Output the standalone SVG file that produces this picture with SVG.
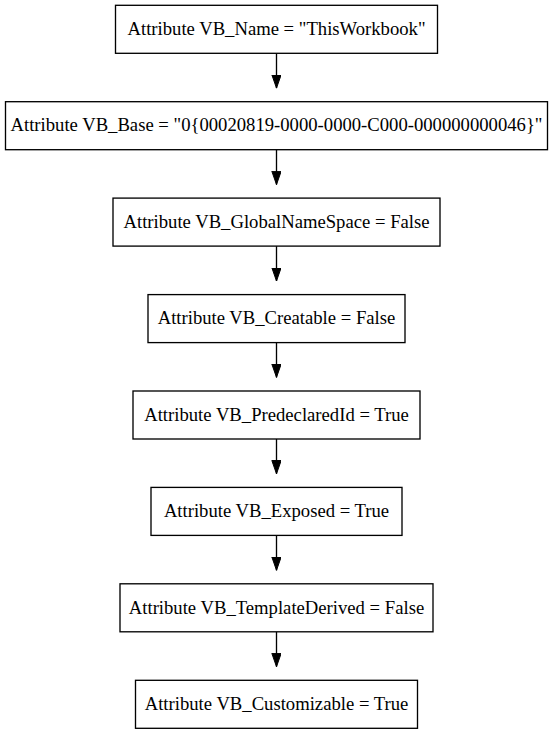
<svg xmlns="http://www.w3.org/2000/svg" width="553" height="731" viewBox="0 0 553 731">
<style>
.node rect{fill:#fff;stroke:#000;stroke-width:1.33}
.node text{font-family:"Liberation Serif","Times New Roman",serif;font-size:18.67px;text-anchor:middle;fill:#000}
.edges line{stroke:#000;stroke-width:1.33;marker-end:url(#ah)}
</style>
<defs>
<marker id="ah" markerUnits="userSpaceOnUse" markerWidth="14" markerHeight="10" refX="13.33" refY="4.67" orient="auto">
<path d="M0,0 L13.33,4.67 L0,9.33 Z" fill="#000" stroke="#000" stroke-width="1"/>
</marker>
</defs>
<rect width="553" height="731" fill="#fff"/>
<g class="edges">
<line x1="276.5" y1="53.3" x2="276.5" y2="88.1"/>
<line x1="276.5" y1="149.7" x2="276.5" y2="184.6"/>
<line x1="276.5" y1="246.1" x2="276.5" y2="281"/>
<line x1="276.5" y1="342.6" x2="276.5" y2="377.4"/>
<line x1="276.5" y1="439" x2="276.5" y2="473.8"/>
<line x1="276.5" y1="535.4" x2="276.5" y2="570.3"/>
<line x1="276.5" y1="631.8" x2="276.5" y2="666.7"/>
</g>
<g id="n1" class="node"><rect x="115.5" y="5.3" width="322" height="48"/><text x="276.5" y="35">Attribute VB_Name = "ThisWorkbook"</text></g>
<g id="n2" class="node"><rect x="5.5" y="101.7" width="542" height="48"/><text x="276.5" y="131.4">Attribute VB_Base = "0{00020819-0000-0000-C000-000000000046}"</text></g>
<g id="n3" class="node"><rect x="113" y="198.1" width="327" height="48"/><text x="276.5" y="227.8">Attribute VB_GlobalNameSpace = False</text></g>
<g id="n4" class="node"><rect x="148" y="294.6" width="257" height="48"/><text x="276.5" y="324.3">Attribute VB_Creatable = False</text></g>
<g id="n5" class="node"><rect x="133" y="391" width="287" height="48"/><text x="276.5" y="420.7">Attribute VB_PredeclaredId = True</text></g>
<g id="n6" class="node"><rect x="151" y="487.4" width="251" height="48"/><text x="276.5" y="517.1">Attribute VB_Exposed = True</text></g>
<g id="n7" class="node"><rect x="120" y="583.8" width="313" height="48"/><text x="276.5" y="613.5">Attribute VB_TemplateDerived = False</text></g>
<g id="n8" class="node"><rect x="135.5" y="680.3" width="282" height="48"/><text x="276.5" y="710">Attribute VB_Customizable = True</text></g>
</svg>
